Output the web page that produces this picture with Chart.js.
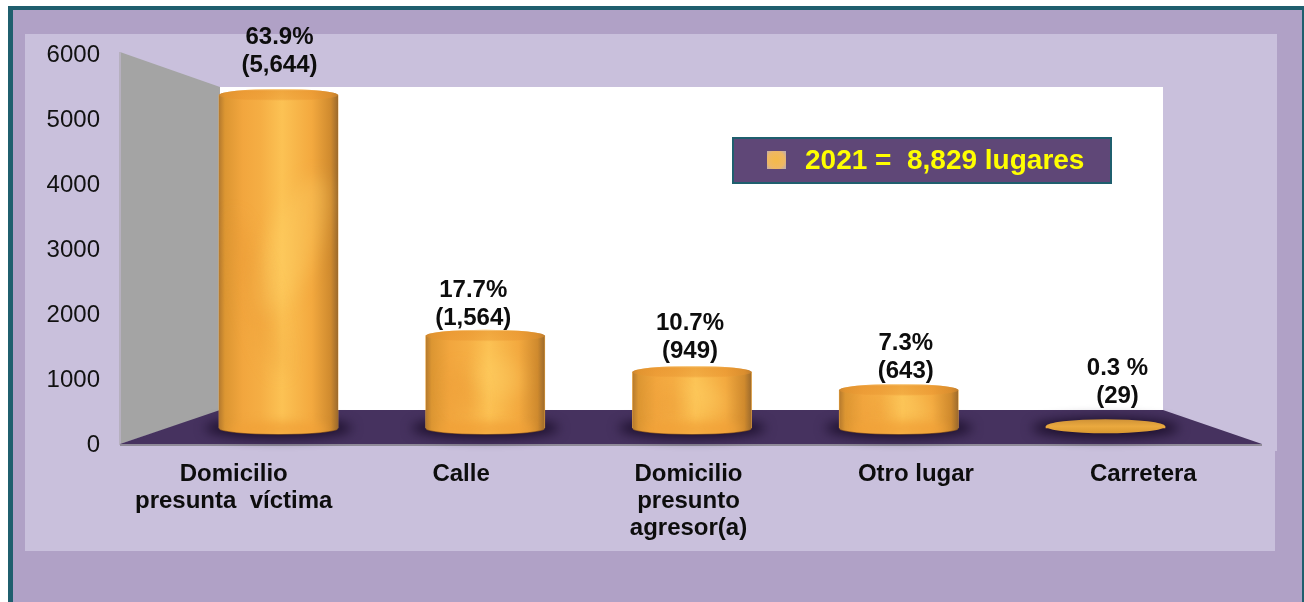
<!DOCTYPE html>
<html><head><meta charset="utf-8">
<style>html,body{margin:0;padding:0;background:#fff}#w{width:1304px;height:602px;position:relative}</style>
<script src="https://cdn.jsdelivr.net/npm/chart.js@4"></script>
</head><body><div id="w"><canvas id="c" width="1304" height="602"></canvas></div>
<script>
const categories = [["Domicilio","presunta  víctima"],["Calle"],["Domicilio","presunto","agresor(a)"],["Otro lugar"],["Carretera"]];
const values = [5644,1564,949,643,29];
const labelPercent = ["63.9%","17.7%","10.7%","7.3%","0.3 %"];
const labelCount = ["(5,644)","(1,564)","(949)","(643)","(29)"];
const yTicks = [0,1000,2000,3000,4000,5000,6000];
const legendText = "2021 =  8,829 lugares";
// label placement relative to each cylinder (dx of label centre, gap above cap)
const labelDx = [1,-12,-2,7,12];
const labelLift = [58,45,49,47,58];

const FONT = '"Liberation Sans", Arial, sans-serif';
const RY = 6;
function bodyGradient(c,l,r){
  const g=c.createLinearGradient(l,0,r,0);
  g.addColorStop(0,'#b57a2e'); g.addColorStop(.05,'#dc9632'); g.addColorStop(.2,'#f2a63e');
  g.addColorStop(.35,'#f5ae44'); g.addColorStop(.53,'#fcc254'); g.addColorStop(.78,'#f3a93f');
  g.addColorStop(.94,'#cf8a2e'); g.addColorStop(1,'#9c6a2c');
  return g;
}
const plugin = {
  id:'scene',
  beforeDraw(chart){
    const c = chart.ctx;
    c.save();
    c.fillStyle='#fff'; c.fillRect(0,0,1304,602);
    c.fillStyle='#1f5f6e'; c.fillRect(8,6,1296,596);
    c.fillStyle='#b0a1c6'; c.fillRect(13,10,1289,592);
    c.fillStyle='#c9c0dc'; c.fillRect(25,34,1252,417); c.fillRect(25,451,1250,100);
    c.fillStyle='#fff'; c.fillRect(220,87,943,324);
    c.beginPath(); c.moveTo(120,52); c.lineTo(220,87); c.lineTo(220,411); c.lineTo(120,444); c.closePath();
    c.fillStyle='#a4a4a4'; c.fill();
    c.fillStyle='#b6b0bf'; c.fillRect(119,52,2,393);
    c.beginPath(); c.moveTo(120,444); c.lineTo(220,410); c.lineTo(1163,410); c.lineTo(1262,444); c.closePath();
    c.fillStyle='#46325f'; c.fill();
    c.fillStyle='#8f8a98'; c.fillRect(120,444,1142,2);
    c.restore();
  },
  beforeDatasetsDraw(chart){
    const c = chart.ctx, meta = chart.getDatasetMeta(0);
    meta.data.forEach(b=>{
      c.save();
      c.filter='blur(6px)';
      c.fillStyle='#1c0f2c';
      c.beginPath(); c.ellipse(b.x,b.base,b.width/2+14,RY+4,0,0,Math.PI*2); c.fill();
      c.restore();
    });
  },
  afterDatasetsDraw(chart){
    const c = chart.ctx, meta = chart.getDatasetMeta(0);
    meta.data.forEach((b,i)=>{
      const l=b.x-b.width/2, r=b.x+b.width/2, top=b.y, base=b.base;
      const tall = base-top>4;
      if(tall){
        c.save();
        c.fillStyle='#8a5620';
        c.beginPath(); c.ellipse(b.x,base+.8,b.width/2,RY,0,0,Math.PI); c.fill();
        c.beginPath();
        c.moveTo(l,top); c.lineTo(l,base);
        c.ellipse(b.x,base,b.width/2,RY,0,Math.PI,0,true);
        c.lineTo(r,top); c.closePath(); c.clip();
        c.fillStyle=bodyGradient(c,l,r); c.fillRect(l,top-1,b.width,base-top+RY+2);
        c.filter='blur(9px)';
        c.fillStyle='rgba(255,214,110,.3)';
        c.beginPath(); c.ellipse(b.x+14,top+(base-top)*.45,24,(base-top)*.22,.4,0,Math.PI*2); c.fill();
        c.fillStyle='rgba(232,146,48,.25)';
        c.beginPath(); c.ellipse(b.x-22,top+(base-top)*.6,14,(base-top)*.25,-.3,0,Math.PI*2); c.fill();
        // warm band near the foot, feathered toward both sides
        c.fillStyle='rgba(240,160,55,.75)';
        c.filter='blur(4px)';
        c.beginPath(); c.ellipse(b.x,base+1,b.width/2-10,8,0,0,Math.PI*2); c.fill();
        c.filter='none';
        c.restore();
      }
      c.save();
      if(tall){
        c.fillStyle=bodyGradient(c,l,r);
        c.beginPath(); c.ellipse(b.x,top,b.width/2,RY,0,0,Math.PI*2); c.fill();
        const cap=c.createLinearGradient(0,top-RY,0,top+RY);
        cap.addColorStop(0,'rgba(252,226,180,.9)'); cap.addColorStop(.15,'rgba(230,145,45,.55)');
        cap.addColorStop(.85,'rgba(232,148,48,.45)'); cap.addColorStop(1,'rgba(245,170,70,.1)');
        c.fillStyle=cap;
        c.beginPath(); c.ellipse(b.x,top,b.width/2,RY,0,0,Math.PI*2); c.fill();
      } else {
        const cap=c.createLinearGradient(0,top-7,0,top+7);
        cap.addColorStop(0,'#cf9236'); cap.addColorStop(.5,'#eaa93f'); cap.addColorStop(1,'#d8982f');
        c.fillStyle=cap;
        c.beginPath(); c.ellipse(b.x,top,b.width/2,7,0,0,Math.PI*2); c.fill();
      }
      c.restore();
      c.save();
      c.fillStyle='#0d0d0d'; c.font='bold 24px '+FONT; c.textAlign='center'; c.textBaseline='middle';
      const cx=b.x+labelDx[i], ly=top-labelLift[i];
      c.fillText(labelPercent[i],cx,ly);
      c.fillText(labelCount[i],cx,ly+28);
      c.restore();
    });
    c.save();
    c.fillStyle='#5f4777'; c.fillRect(732,137,380,47);
    c.strokeStyle='#1f5f6e'; c.lineWidth=2; c.strokeRect(733,138,378,45);
    const g=c.createRadialGradient(776,160,2,776,160,13);
    g.addColorStop(0,'#f3b94e'); g.addColorStop(.6,'#eeb765'); g.addColorStop(1,'#b9aab6');
    c.fillStyle=g; c.fillRect(767,151,19,18);
    c.fillStyle='#ffff00'; c.font='bold 28px '+FONT; c.textAlign='left'; c.textBaseline='middle';
    c.fillText(legendText,805,161);
    c.restore();
  }
};

new Chart(document.getElementById('c'),{
  type:'bar',
  data:{labels:categories.map(c=>c.join(' ')),datasets:[{
    label:legendText,
    data:values.map((v,i)=>({x:i,y:v})),
    xAxisID:'xBars',yAxisID:'yBars',
    backgroundColor:'#f0a840',borderWidth:0,barThickness:119,grouped:false
  }]},
  options:{
    responsive:false,animation:false,devicePixelRatio:1,
    layout:{padding:{left:0,top:55,right:47,bottom:0}},
    plugins:{legend:{display:false},tooltip:{enabled:false}},
    scales:{
      x:{type:'category',position:'bottom',offset:true,
        grid:{display:false},border:{display:false},
        afterFit(s){s.height=157;},
        ticks:{autoSkip:false,maxRotation:0,minRotation:0,padding:8,color:'#0d0d0d',
          font:{family:FONT,size:24,weight:'bold',lineHeight:1.125},
          callback:(v,i)=>categories[i]}},
      y:{type:'linear',position:'left',min:0,max:6000,
        grid:{display:false},border:{display:false},
        afterFit(s){s.width=120;},
        afterBuildTicks(s){s.ticks=yTicks.map(v=>({value:v}));},
        ticks:{padding:12,color:'#111',font:{family:FONT,size:24},callback:v=>String(v)}},
      xBars:{type:'linear',display:false,offset:false,min:(120-278.5)/206.75,max:(1257-278.5)/206.75},
      yBars:{type:'linear',display:false,min:(428-445)/0.059,max:(428-55)/0.059}
    }
  },
  plugins:[plugin]
});
</script></body></html>
